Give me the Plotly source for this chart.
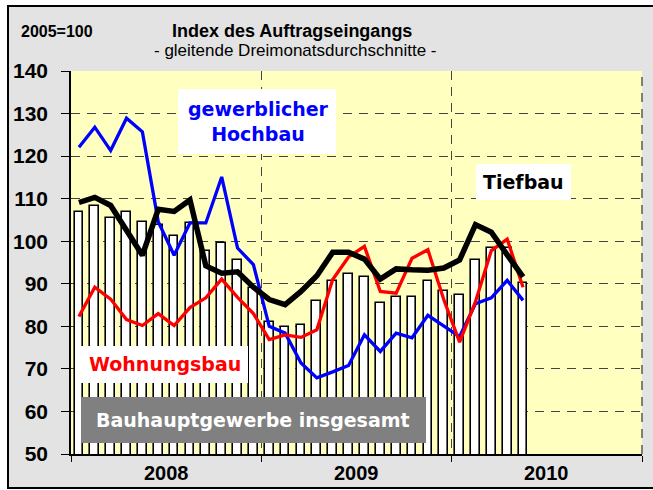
import plotly.graph_objects as go

# ---------------- data ----------------
years = ["2008", "2009", "2010"]
months_per_year = 12

# Bauhauptgewerbe insgesamt (bars), Jan 2008 .. May 2010
insgesamt = [106.8, 108.2, 105.4, 106.8, 104.6, 103.7, 101.3, 104.3, 97.8, 99.6, 95.5, 89.0,
             81.0, 79.8, 80.2, 86.0, 90.6, 92.3, 91.5, 85.6, 87.0, 87.0, 90.6, 88.4,
             87.4, 95.6, 98.4, 98.5, 90.2]
tiefbau = [109.1, 110.3, 108.4, 102.7, 96.7, 107.5, 107.0, 109.7, 94.2, 92.5, 92.8, 89.2,
           86.3, 85.1, 88.2, 91.9, 97.4, 97.4, 95.8, 91.1, 93.5, 93.3, 93.2, 93.7,
           95.6, 103.9, 102.1, 96.8, 91.6]
wohnungsbau = [82.3, 89.2, 86.4, 81.6, 80.2, 83.0, 80.2, 84.4, 86.7, 91.1, 86.8, 83.0,
               76.9, 78.0, 77.4, 79.2, 91.0, 96.3, 98.8, 88.2, 87.8, 96.0, 98.0, 86.3,
               76.3, 85.8, 97.8, 100.5, 89.2]
gewerblich = [122.1, 126.8, 121.3, 128.9, 125.7, 104.6, 96.7, 104.3, 104.3, 115.1, 98.4, 94.5,
              80.0, 78.4, 71.4, 67.9, 69.3, 70.8, 78.0, 74.1, 78.4, 77.3, 82.6, 80.0,
              77.6, 85.3, 86.7, 90.8, 86.1]

y_ticks = [50, 60, 70, 80, 90, 100, 110, 120, 130, 140]

# ---------------- layout helpers ----------------
W, H = 653, 490
L, R, T, B = 71, 11, 71, 36
pw, ph = W - L - R, H - T - B


def xp(px):
    return (px - L) / pw


def yp(py):
    return (H - B - py) / ph


months = list(range(len(insgesamt)))
n_total = months_per_year * len(years)
year_bounds = [i * months_per_year - 0.5 for i in range(len(years) + 1)]
year_centers = [i * months_per_year + (months_per_year - 1) / 2 for i in range(len(years))]

GRID = "#444444"
YELLOW = "#FFFFC0"
GREY = "#E3E3E3"
ARIAL = "Liberation Sans, Arial, sans-serif"
DEJA = "DejaVu Sans, sans-serif"

fig = go.Figure()
fig.add_bar(x=months, y=insgesamt, width=0.55, name="Bauhauptgewerbe insgesamt",
            marker=dict(color="white", line=dict(color="black", width=1.6)))
fig.add_scatter(x=months, y=gewerblich, mode="lines", name="gewerblicher Hochbau",
                line=dict(color="#0000FF", width=3.3))
fig.add_scatter(x=months, y=wohnungsbau, mode="lines", name="Wohnungsbau",
                line=dict(color="#FF0000", width=3.3))
fig.add_scatter(x=months, y=tiefbau, mode="lines", name="Tiefbau",
                line=dict(color="black", width=5.5))

shapes = [
    # outer grey frame with black border
    dict(type="rect", xref="paper", yref="paper", layer="below",
         x0=xp(8), x1=xp(665), y0=yp(488), y1=yp(6),
         fillcolor=GREY, line=dict(color="black", width=2)),
    # yellow plot area
    dict(type="rect", xref="paper", yref="paper", layer="below",
         x0=0, x1=1, y0=0, y1=1, fillcolor=YELLOW, line=dict(width=0)),
    # dashed right edge of plot area
    dict(type="line", xref="paper", yref="paper", layer="below",
         x0=1, x1=1, y0=0, y1=1, line=dict(color=GRID, width=1.3, dash="9px,7px")),
    # label boxes
    dict(type="rect", xref="paper", yref="paper", layer="above",
         x0=xp(178), x1=xp(336), y0=yp(154), y1=yp(89),
         fillcolor="white", line=dict(width=0)),
    dict(type="rect", xref="paper", yref="paper", layer="above",
         x0=xp(476), x1=xp(571), y0=yp(200), y1=yp(164),
         fillcolor="white", line=dict(width=0)),
    dict(type="rect", xref="paper", yref="paper", layer="above",
         x0=xp(81), x1=xp(248), y0=yp(383), y1=yp(346),
         fillcolor="white", line=dict(width=0)),
    dict(type="rect", xref="paper", yref="paper", layer="above",
         x0=xp(81), x1=xp(426), y0=yp(443), y1=yp(397),
         fillcolor="#808080", line=dict(width=0)),
]

annotations = [
    dict(text="<b>2005=100</b>", x=xp(57), y=yp(31.5), font=dict(family=ARIAL, size=16, color="black")),
    dict(text="<b>Index des Auftragseingangs</b>", x=xp(292), y=yp(31.5),
         font=dict(family=ARIAL, size=18, color="black")),
    dict(text="- gleitende Dreimonatsdurchschnitte -", x=xp(295), y=yp(51),
         font=dict(family=ARIAL, size=17, color="black")),
    dict(text="<b>gewerblicher<br>Hochbau</b>", x=xp(258), y=yp(121),
         font=dict(family=DEJA, size=19, color="#0000FF")),
    dict(text="<b>Tiefbau</b>", x=xp(523), y=yp(182),
         font=dict(family=DEJA, size=19, color="black")),
    dict(text="<b>Wohnungsbau</b>", x=xp(165), y=yp(364),
         font=dict(family=DEJA, size=19, color="#FF0000")),
    dict(text="<b>Bauhauptgewerbe insgesamt</b>", x=xp(253), y=yp(420),
         font=dict(family=DEJA, size=19, color="white")),
]
for yr, c in zip(years, year_centers):
    annotations.append(dict(text="<b>%s</b>" % yr, x=c, xref="x", y=yp(473), yref="paper",
                            font=dict(family=ARIAL, size=20, color="black")))

for a in annotations:
    a.setdefault("xref", "paper")
    a.setdefault("yref", "paper")
    a.update(showarrow=False, xanchor="center", yanchor="middle")

fig.update_layout(
    width=W, height=H,
    margin=dict(l=L, r=R, t=T, b=B, pad=0),
    paper_bgcolor="white",
    plot_bgcolor="rgba(0,0,0,0)",
    showlegend=False,
    bargap=0,
    shapes=shapes,
    annotations=annotations,
    xaxis=dict(range=[-0.5, n_total - 0.5], tickmode="array", tickvals=year_bounds,
               showticklabels=False, ticks="outside", ticklen=6, tickwidth=1.3, tickcolor="black",
               showline=True, linecolor="black", linewidth=1.5,
               showgrid=True, gridcolor=GRID, gridwidth=1.3, griddash="9px,7px",
               zeroline=False, fixedrange=True),
    yaxis=dict(range=[y_ticks[0], y_ticks[-1]], tickmode="array", tickvals=y_ticks,
               ticks="outside", ticklen=8, tickwidth=1.3, tickcolor="black",
               tickfont=dict(family=ARIAL, size=21, color="black", weight="bold"),
               ticklabelstandoff=9,
               showline=True, linecolor="black", linewidth=1.5,
               showgrid=True, gridcolor=GRID, gridwidth=1.3, griddash="9px,7px",
               zeroline=False, fixedrange=True),
)

fig.write_html("out.html", config={"displayModeBar": False},
               post_script="document.body.style.margin='0';document.body.style.overflow='hidden';")
